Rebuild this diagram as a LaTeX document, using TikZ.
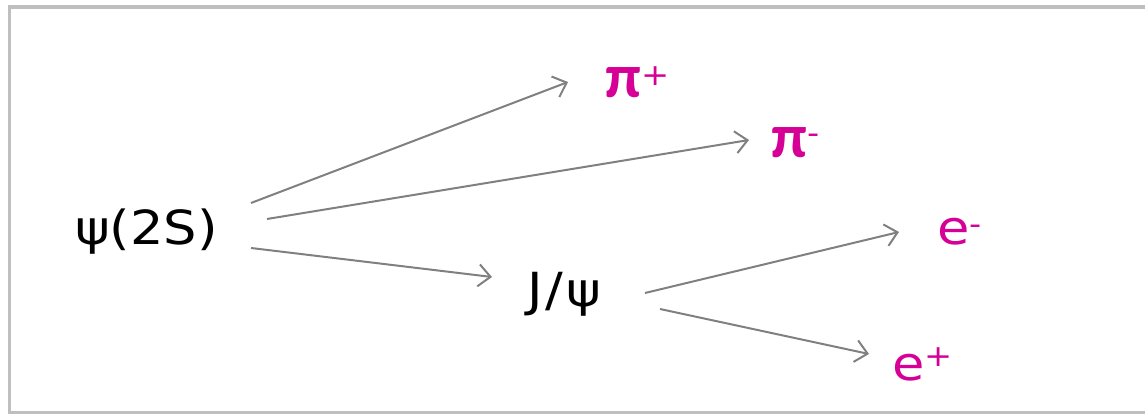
\documentclass[tikz,border=0pt]{standalone}
\usepackage{fontspec}
\setmainfont{DejaVu Sans}[FakeStretch=1.12]
\newfontfamily\piFont{Carlito}
\usetikzlibrary{arrows.meta}
\definecolor{LineClr}{rgb}{0.5,0.5,0.5}
\definecolor{FrameClr}{rgb}{0.75,0.75,0.75}
\definecolor{DaughterClr}{RGB}{214,0,150}
\newcommand{\chg}[2]{\raisebox{#1}{\fontsize{30}{32}\selectfont #2}}

\begin{document}
\begin{tikzpicture}[x=1pt,y=1pt,
  particle/.style={inner sep=0pt,anchor=base west,font=\fontsize{47}{50}\selectfont},
  daughter/.style={particle,text=DaughterClr},
  decay/.style={draw=LineClr,line width=2pt,-{Straight Barb[length=12pt,width=22pt,line width=2pt]}}]
\useasboundingbox (0,0) rectangle (1145,414);

% frame, its right side is cut off
\draw[FrameClr,line width=3.5pt] (1160,407) -- (9.5,407) -- (9.5,1.5) -- (1160,1.5);

\node[particle] (psi2s) at (75,169) {ψ(2S)};
\node[particle] (jpsi) at (527,107) {J\kern3pt/\kern3ptψ};
\node[daughter] (piplus) at (605,316) {{\piFont\bfseries\fontsize{62}{64}\selectfont π}\chg{12pt}{+}};
\node[daughter] (piminus) at (771,256) {{\piFont\bfseries\fontsize{62}{64}\selectfont π}\chg{14pt}{-}};
\node[daughter] (eminus) at (937,169) {e\chg{10pt}{-}};
\node[daughter] (eplus) at (892,33) {e\chg{14pt}{+}};

\draw[decay] ([shift={(176,42)}]psi2s.base west) -- ([shift={(-37,16)}]piplus.base west);
\draw[decay] ([shift={(192,26)}]psi2s.base west) -- ([shift={(-22,18)}]piminus.base west);
\draw[decay] ([shift={(176,-3)}]psi2s.base west) -- ([shift={(-35,30)}]jpsi.base west);
\draw[decay] ([shift={(118,14)}]jpsi.base west) -- ([shift={(-38,13)}]eminus.base west);
\draw[decay] ([shift={(133,-2)}]jpsi.base west) -- ([shift={(-23,27)}]eplus.base west);
\end{tikzpicture}
\end{document}
